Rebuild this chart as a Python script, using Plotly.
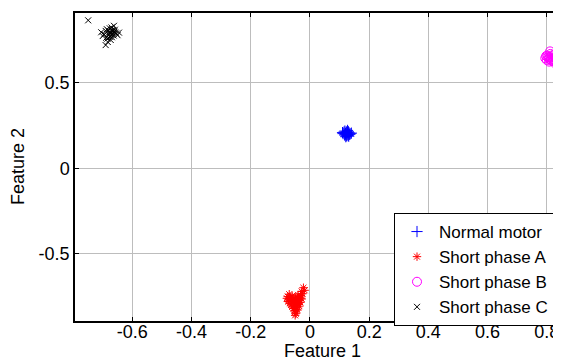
import plotly.graph_objects as go

# Normal motor
normal_x = [0.120, 0.128, 0.115, 0.132, 0.124, 0.118, 0.136, 0.122, 0.130, 0.112, 0.126,
            0.121, 0.134, 0.117, 0.127, 0.125, 0.140, 0.119, 0.129, 0.123, 0.110, 0.131]
normal_y = [0.205, 0.198, 0.212, 0.208, 0.190, 0.218, 0.202, 0.196, 0.214, 0.203, 0.207,
            0.185, 0.199, 0.195, 0.222, 0.210, 0.206, 0.200, 0.192, 0.213, 0.209, 0.188]

# Short phase A
phaseA_x = [-0.022, -0.028, -0.018, -0.070, -0.040, -0.025, -0.075, -0.060, -0.048, -0.032,
            -0.078, -0.065, -0.055, -0.042, -0.030, -0.072, -0.062, -0.050, -0.038, -0.028,
            -0.074, -0.058, -0.046, -0.035, -0.068, -0.055, -0.042, -0.032, -0.064, -0.050,
            -0.038, -0.060, -0.046, -0.036, -0.056, -0.044, -0.052, -0.042, -0.050, -0.048,
            -0.050]
phaseA_y = [-0.700, -0.722, -0.715, -0.738, -0.742, -0.735, -0.752, -0.748, -0.755, -0.746,
            -0.762, -0.758, -0.765, -0.757, -0.761, -0.772, -0.768, -0.775, -0.770, -0.766,
            -0.781, -0.778, -0.784, -0.776, -0.792, -0.788, -0.795, -0.786, -0.801, -0.805,
            -0.798, -0.812, -0.815, -0.808, -0.822, -0.826, -0.834, -0.831, -0.842, -0.852,
            -0.862]

# Short phase B
phaseB_x = [0.810, 0.820, 0.802, 0.828, 0.815, 0.795, 0.825, 0.808, 0.818, 0.832, 0.800,
            0.812, 0.822, 0.805, 0.816, 0.826, 0.798, 0.813, 0.819, 0.807, 0.830, 0.811]
phaseB_y = [0.650, 0.640, 0.660, 0.648, 0.632, 0.645, 0.665, 0.625, 0.655, 0.638, 0.635,
            0.670, 0.628, 0.652, 0.643, 0.618, 0.658, 0.636, 0.662, 0.642, 0.653, 0.685]

# Short phase C
phaseC_x = [-0.672, -0.668, -0.680, -0.661, -0.675, -0.690, -0.655, -0.684, -0.670, -0.663,
            -0.678, -0.695, -0.659, -0.673, -0.666, -0.686, -0.650, -0.677, -0.669, -0.681,
            -0.664, -0.700, -0.676, -0.658, -0.671, -0.683, -0.667, -0.688, -0.645, -0.749,
            -0.690, -0.705, -0.662]
phaseC_y = [0.795, 0.810, 0.782, 0.800, 0.770, 0.805, 0.790, 0.760, 0.825, 0.778, 0.798,
            0.785, 0.812, 0.752, 0.803, 0.815, 0.780, 0.792, 0.768, 0.807, 0.788, 0.775,
            0.820, 0.796, 0.784, 0.740, 0.806, 0.765, 0.795, 0.867, 0.722, 0.797, 0.835]

series_names = ["Normal motor", "Short phase A", "Short phase B", "Short phase C"]
x_ticks = [-0.6, -0.4, -0.2, 0, 0.2, 0.4, 0.6, 0.8]
x_tick_labels = ["-0.6", "-0.4", "-0.2", "0", "0.2", "0.4", "0.6", "0.8"]
y_ticks = [-0.5, 0, 0.5]
y_tick_labels = ["-0.5", "0", "0.5"]

FONT = "Liberation Sans, Arial, sans-serif"

fig = go.Figure()
fig.add_trace(go.Scatter(x=normal_x, y=normal_y, mode="markers", name=series_names[0],
                         marker=dict(symbol="cross-thin-open", size=8, color="#0000ff",
                                     line=dict(color="#0000ff", width=1))))
fig.add_trace(go.Scatter(x=phaseA_x, y=phaseA_y, mode="markers", name=series_names[1],
                         marker=dict(symbol="asterisk-open", size=7, color="#ff0000",
                                     line=dict(color="#ff0000", width=1))))
fig.add_trace(go.Scatter(x=phaseB_x, y=phaseB_y, mode="markers", name=series_names[2],
                         marker=dict(symbol="circle-open", size=9, color="#ff00ff",
                                     line=dict(color="#ff00ff", width=1))))
fig.add_trace(go.Scatter(x=phaseC_x, y=phaseC_y, mode="markers", name=series_names[3],
                         marker=dict(symbol="x-thin-open", size=6, color="#000000",
                                     line=dict(color="#000000", width=1))))

axis_common = dict(showgrid=True, gridcolor="#bdbdbd", gridwidth=1,
                   zeroline=False, showline=True, linecolor="#000000", linewidth=1.5,
                   ticks="inside", ticklen=4, tickcolor="#000000",
                   tickfont=dict(family=FONT, size=18, color="#000000"))

# page body has an 8 px default margin: figure coordinates = window coordinates - 8
OFF = 8
W, H = 561 - OFF, 362 - OFF
PL, PR, PT, PB = 75 - OFF, 561 - OFF, 13 - OFF, 321 - OFF
PW, PH = PR - PL, PB - PT

fig.update_layout(
    width=W, height=H,
    margin=dict(l=PL, r=W - PR, t=PT, b=H - PB, autoexpand=False),
    paper_bgcolor="white", plot_bgcolor="white",
    font=dict(family=FONT, size=18, color="#000000"),
    xaxis=dict(range=[-0.7936, 0.848], tickvals=x_ticks, ticktext=x_tick_labels,
               mirror="ticks", ticklabelstandoff=-6, **axis_common),
    yaxis=dict(range=[-0.895, 0.91], tickvals=y_ticks, ticktext=y_tick_labels,
               mirror=False, **axis_common),
    legend=dict(x=(394 - OFF - PL) / PW, y=(PB - (213 - OFF)) / PH,
                xanchor="left", yanchor="top",
                bgcolor="white", bordercolor="#000000", borderwidth=1,
                font=dict(family=FONT, size=17), itemwidth=34, tracegroupgap=0),
    showlegend=True,
)
fig.add_annotation(text="Feature 1", xref="paper", yref="paper",
                   x=(322 - OFF - PL) / PW, y=-((351 - OFF) - PB) / PH,
                   xanchor="center", yanchor="middle", showarrow=False, borderpad=0,
                   font=dict(family=FONT, size=18, color="#000000"))
fig.add_annotation(text="Feature 2", xref="paper", yref="paper",
                   x=(18 - OFF - PL) / PW, y=(PB - (167 - OFF)) / PH, textangle=-90,
                   xanchor="center", yanchor="middle", showarrow=False, borderpad=0,
                   font=dict(family=FONT, size=18, color="#000000"))

fig.write_html("out.html")
